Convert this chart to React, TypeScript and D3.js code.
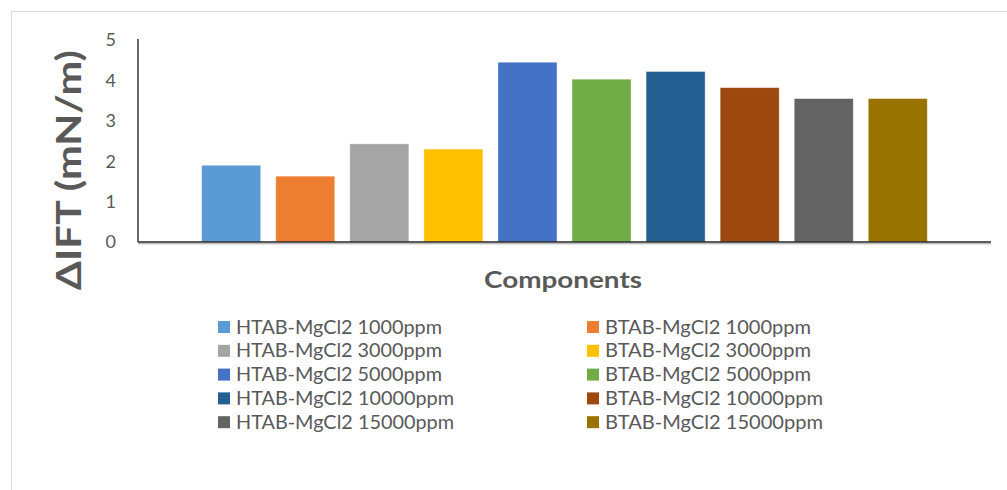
import React from "react";
import * as d3 from "d3";

const seriesNames = [
    "HTAB-MgCl2 1000ppm",
    "BTAB-MgCl2 1000ppm",
    "HTAB-MgCl2 3000ppm",
    "BTAB-MgCl2 3000ppm",
    "HTAB-MgCl2 5000ppm",
    "BTAB-MgCl2 5000ppm",
    "HTAB-MgCl2 10000ppm",
    "BTAB-MgCl2 10000ppm",
    "HTAB-MgCl2 15000ppm",
    "BTAB-MgCl2 15000ppm",
];
const ift = [1.9, 1.63, 2.43, 2.3, 4.45, 4.03, 4.22, 3.82, 3.55, 3.55];
const yTicks = [0, 1, 2, 3, 4, 5];

const colors = [
    "#5B9BD5", "#ED7D31", "#A5A5A5", "#FFC000", "#4472C4",
    "#70AD47", "#255E91", "#9E480E", "#636363", "#997300",
];

const WIDTH = 1007;
const HEIGHT = 490;
const FONT = "Lato, 'Open Sans', sans-serif";
const TEXT = "#595959";

export default function App() {
    const plot = { left: 138, right: 991, top: 40, bottom: 242 };

    const x = d3.scaleBand<string>()
        .domain(seriesNames)
        .range([plot.left, plot.right])
        .paddingInner(0.203)
        .paddingOuter(0.86);

    const y = d3.scaleLinear([0, 5], [plot.bottom, plot.top]);

    // legend: two columns, read row by row
    const legendCols = [218, 587];
    const legendRow0 = 327;
    const legendStep = 23.8;

    return <svg width={WIDTH} height={HEIGHT}
        style={{ position: "absolute", left: 0, top: 0, background: "#fff" }}>

        {/* chart frame */}
        <line x1={11} x2={WIDTH} y1={11.5} y2={11.5} stroke="#d9d9d9" strokeWidth={1} />
        <line x1={11.5} x2={11.5} y1={11} y2={HEIGHT} stroke="#d9d9d9" strokeWidth={1} />

        <g name="bars">
            {seriesNames.map((name, i) => (
                <rect key={name}
                    x={x(name)!} width={x.bandwidth()}
                    y={y(ift[i])} height={y(0) - y(ift[i])}
                    fill={colors[i]} stroke="#fff" strokeOpacity={0.5} strokeWidth={0.75} />
            ))}
        </g>

        <g name="axes">
            <line x1={plot.left} x2={plot.left} y1={y(5) - 1} y2={y(0)}
                stroke="#1a1a1a" strokeWidth={1.3} />
            <line x1={plot.left} x2={plot.right} y1={y(0) + 1.8} y2={y(0) + 1.8}
                stroke="#a6a6a6" strokeWidth={1} />
            <line x1={plot.left} x2={plot.right} y1={y(0)} y2={y(0)}
                stroke="#262626" strokeWidth={1.6} />
        </g>

        <g name="yTicks">
            {yTicks.map((tick) => (
                <text key={tick} x={116} y={y(tick)} dy="0.35em" textAnchor="end"
                    fontFamily={FONT} fontSize={18} fill={TEXT}>{tick}</text>
            ))}
        </g>

        <text transform="translate(81,170) rotate(-90)" textAnchor="middle"
            fontFamily={FONT} fontSize={35} fontWeight="bold" fill={TEXT}
            textLength={240} lengthAdjust="spacingAndGlyphs">ΔIFT (mN/m)</text>

        <text x={563} y={288} textAnchor="middle"
            fontFamily={FONT} fontSize={23} fontWeight="bold" fill={TEXT}
            textLength={158} lengthAdjust="spacingAndGlyphs">Components</text>

        <g name="legend">
            {seriesNames.map((name, i) => {
                const col = legendCols[i % 2];
                const cy = legendRow0 + Math.floor(i / 2) * legendStep;
                return <g key={name}>
                    <rect x={col} y={cy - 6} width={12} height={12} fill={colors[i]} />
                    <text x={col + 18} y={cy} dy="0.36em"
                        fontFamily={FONT} fontSize={18.5} fill={TEXT}
                        textLength={name.length > 18 ? 218 : 206}
                        lengthAdjust="spacingAndGlyphs">{name}</text>
                </g>;
            })}
        </g>
    </svg>;
}
